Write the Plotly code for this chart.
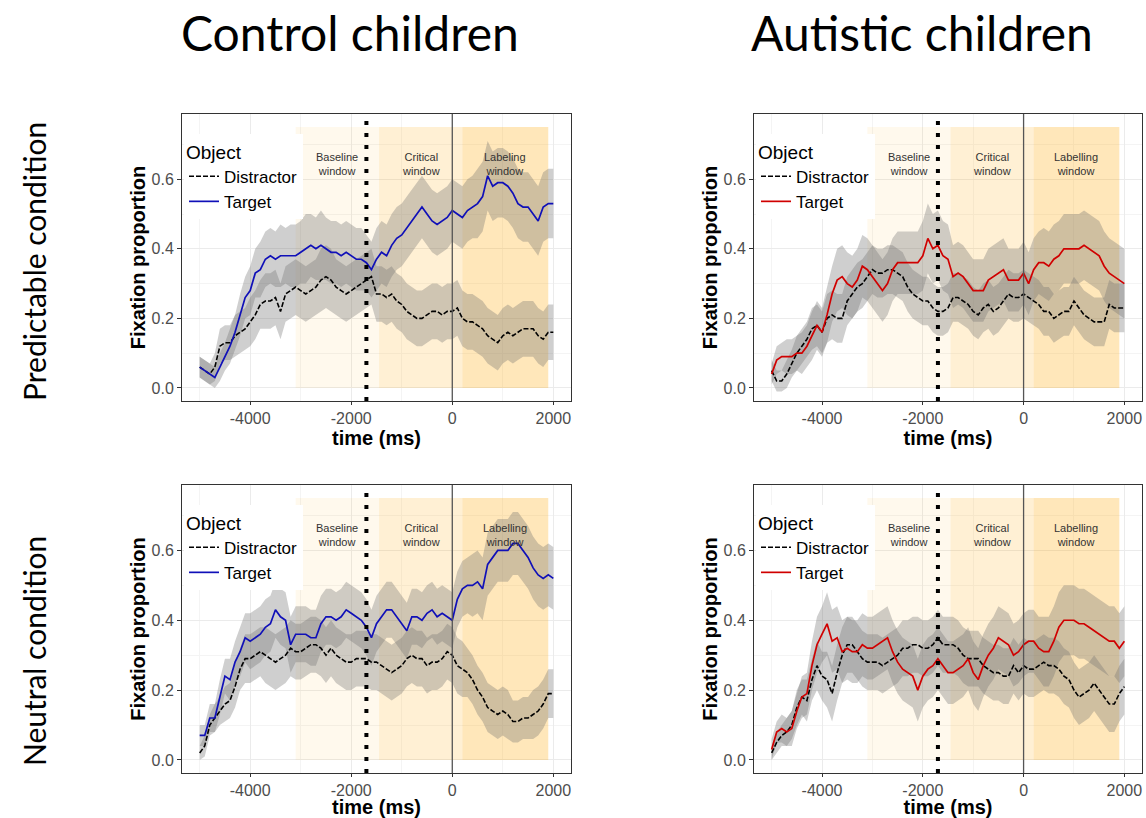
import plotly.graph_objects as go

# ---------------- data ----------------
time_ms = list(range(-5000, 2001, 100))

# Control children, predictable condition
ctrl_pred_target = [0.06, 0.05, 0.04, 0.03, 0.06, 0.09, 0.12, 0.16, 0.21, 0.26,
                    0.28, 0.33, 0.34, 0.37, 0.38, 0.37, 0.38, 0.38, 0.38, 0.38,
                    0.39, 0.40, 0.41, 0.40, 0.41, 0.40, 0.39, 0.39, 0.38, 0.39,
                    0.38, 0.37, 0.37, 0.36, 0.34, 0.37, 0.39, 0.38, 0.41, 0.43,
                    0.44, 0.46, 0.48, 0.50, 0.52, 0.50, 0.48, 0.47, 0.48, 0.49,
                    0.51, 0.50, 0.49, 0.51, 0.52, 0.53, 0.55, 0.61, 0.58, 0.59,
                    0.59, 0.58, 0.56, 0.53, 0.52, 0.52, 0.50, 0.48, 0.52, 0.53,
                    0.53]
ctrl_pred_distractor = [0.06, 0.05, 0.04, 0.06, 0.12, 0.13, 0.13, 0.15, 0.16, 0.17,
                        0.19, 0.21, 0.24, 0.25, 0.25, 0.26, 0.22, 0.27, 0.28, 0.29,
                        0.28, 0.27, 0.28, 0.29, 0.31, 0.32, 0.31, 0.29, 0.28, 0.27,
                        0.28, 0.29, 0.30, 0.31, 0.32, 0.27, 0.27, 0.26, 0.27, 0.25,
                        0.24, 0.22, 0.21, 0.20, 0.20, 0.21, 0.22, 0.22, 0.21, 0.22,
                        0.22, 0.23, 0.20, 0.19, 0.19, 0.18, 0.17, 0.15, 0.14, 0.13,
                        0.15, 0.16, 0.15, 0.16, 0.17, 0.17, 0.17, 0.15, 0.14, 0.16,
                        0.16]
ctrl_pred_target_ci = [0.03, 0.03, 0.03, 0.03, 0.04, 0.04, 0.05, 0.05, 0.06, 0.06,
                       0.07, 0.07, 0.08, 0.08, 0.08, 0.08, 0.09, 0.08, 0.09, 0.09,
                       0.09, 0.10, 0.09, 0.09, 0.10, 0.09, 0.09, 0.09, 0.09, 0.09,
                       0.09, 0.09, 0.09, 0.08, 0.08, 0.09, 0.09, 0.09, 0.09, 0.09,
                       0.09, 0.09, 0.09, 0.09, 0.09, 0.09, 0.09, 0.09, 0.09, 0.09,
                       0.09, 0.09, 0.09, 0.09, 0.09, 0.10, 0.10, 0.10, 0.10, 0.10,
                       0.10, 0.10, 0.10, 0.10, 0.10, 0.10, 0.10, 0.10, 0.10, 0.10,
                       0.10]
ctrl_pred_distractor_ci = [0.03, 0.03, 0.03, 0.04, 0.05, 0.05, 0.05, 0.06, 0.06, 0.06,
                           0.07, 0.07, 0.07, 0.08, 0.08, 0.08, 0.08, 0.08, 0.08, 0.08,
                           0.08, 0.08, 0.08, 0.08, 0.09, 0.09, 0.09, 0.08, 0.08, 0.08,
                           0.08, 0.08, 0.08, 0.08, 0.08, 0.08, 0.08, 0.08, 0.08, 0.08,
                           0.08, 0.08, 0.08, 0.08, 0.08, 0.08, 0.08, 0.08, 0.08, 0.08,
                           0.08, 0.08, 0.08, 0.08, 0.08, 0.08, 0.08, 0.08, 0.08, 0.08,
                           0.08, 0.08, 0.08, 0.08, 0.08, 0.08, 0.08, 0.08, 0.08, 0.08,
                           0.08]

# Autistic children, predictable condition
aut_pred_target = [0.04, 0.08, 0.09, 0.09, 0.09, 0.10, 0.10, 0.12, 0.15, 0.18,
                   0.16, 0.21, 0.27, 0.31, 0.32, 0.30, 0.29, 0.31, 0.35, 0.34,
                   0.32, 0.30, 0.28, 0.30, 0.34, 0.36, 0.36, 0.36, 0.36, 0.36,
                   0.38, 0.43, 0.40, 0.41, 0.38, 0.37, 0.32, 0.33, 0.32, 0.30,
                   0.28, 0.28, 0.28, 0.31, 0.32, 0.33, 0.34, 0.31, 0.31, 0.31,
                   0.33, 0.30, 0.34, 0.36, 0.36, 0.35, 0.37, 0.38, 0.40, 0.40,
                   0.40, 0.40, 0.41, 0.40, 0.39, 0.38, 0.35, 0.33, 0.32, 0.31,
                   0.30]
aut_pred_distractor = [0.05, 0.02, 0.02, 0.04, 0.07, 0.10, 0.12, 0.14, 0.17, 0.18,
                       0.16, 0.20, 0.21, 0.20, 0.20, 0.25, 0.27, 0.29, 0.30, 0.32,
                       0.34, 0.33, 0.33, 0.34, 0.34, 0.33, 0.32, 0.29, 0.27, 0.26,
                       0.25, 0.25, 0.23, 0.22, 0.22, 0.23, 0.26, 0.26, 0.25, 0.24,
                       0.22, 0.21, 0.23, 0.24, 0.22, 0.23, 0.25, 0.27, 0.26, 0.26,
                       0.27, 0.26, 0.25, 0.24, 0.22, 0.22, 0.20, 0.21, 0.22, 0.22,
                       0.25, 0.23, 0.21, 0.20, 0.19, 0.19, 0.19, 0.24, 0.23, 0.23,
                       0.23]
aut_pred_target_ci = [0.03, 0.04, 0.04, 0.05, 0.05, 0.05, 0.06, 0.06, 0.07, 0.07,
                      0.07, 0.08, 0.08, 0.09, 0.09, 0.09, 0.09, 0.09, 0.09, 0.09,
                      0.09, 0.09, 0.09, 0.09, 0.09, 0.09, 0.09, 0.09, 0.09, 0.09,
                      0.10, 0.10, 0.10, 0.10, 0.10, 0.10, 0.09, 0.09, 0.09, 0.09,
                      0.09, 0.09, 0.09, 0.09, 0.09, 0.09, 0.09, 0.09, 0.09, 0.09,
                      0.09, 0.09, 0.09, 0.09, 0.10, 0.10, 0.10, 0.10, 0.10, 0.10,
                      0.10, 0.10, 0.10, 0.10, 0.10, 0.10, 0.10, 0.10, 0.10, 0.10,
                      0.10]
aut_pred_distractor_ci = [0.03, 0.03, 0.03, 0.04, 0.04, 0.05, 0.05, 0.05, 0.06, 0.06,
                          0.06, 0.07, 0.07, 0.07, 0.07, 0.07, 0.07, 0.07, 0.07, 0.07,
                          0.07, 0.07, 0.07, 0.07, 0.07, 0.07, 0.07, 0.07, 0.07, 0.07,
                          0.07, 0.07, 0.07, 0.07, 0.07, 0.07, 0.07, 0.07, 0.07, 0.07,
                          0.07, 0.07, 0.07, 0.07, 0.07, 0.07, 0.07, 0.07, 0.07, 0.07,
                          0.07, 0.07, 0.07, 0.07, 0.07, 0.07, 0.07, 0.07, 0.07, 0.07,
                          0.07, 0.07, 0.07, 0.07, 0.07, 0.07, 0.07, 0.07, 0.07, 0.07,
                          0.07]

# Control children, neutral condition
ctrl_neut_target = [0.07, 0.07, 0.12, 0.12, 0.18, 0.24, 0.23, 0.28, 0.31, 0.35,
                    0.34, 0.35, 0.36, 0.38, 0.39, 0.43, 0.41, 0.40, 0.33, 0.36,
                    0.36, 0.36, 0.35, 0.35, 0.39, 0.41, 0.41, 0.40, 0.41, 0.43,
                    0.42, 0.41, 0.40, 0.38, 0.35, 0.39, 0.41, 0.43, 0.43, 0.41,
                    0.39, 0.37, 0.41, 0.41, 0.40, 0.42, 0.43, 0.41, 0.42, 0.41,
                    0.40, 0.46, 0.49, 0.50, 0.50, 0.51, 0.49, 0.56, 0.58, 0.60,
                    0.60, 0.60, 0.62, 0.62, 0.60, 0.58, 0.55, 0.53, 0.52, 0.53,
                    0.52]
ctrl_neut_distractor = [0.02, 0.04, 0.10, 0.12, 0.14, 0.16, 0.17, 0.21, 0.26, 0.29,
                        0.29, 0.30, 0.31, 0.30, 0.29, 0.28, 0.29, 0.30, 0.32, 0.31,
                        0.31, 0.32, 0.33, 0.33, 0.32, 0.30, 0.32, 0.30, 0.29, 0.28,
                        0.28, 0.29, 0.29, 0.29, 0.28, 0.28, 0.27, 0.26, 0.25, 0.26,
                        0.27, 0.29, 0.30, 0.29, 0.29, 0.27, 0.28, 0.28, 0.29, 0.31,
                        0.30, 0.27, 0.26, 0.25, 0.23, 0.20, 0.18, 0.15, 0.14, 0.13,
                        0.14, 0.13, 0.11, 0.11, 0.12, 0.12, 0.13, 0.14, 0.16, 0.19,
                        0.19]
ctrl_neut_target_ci = [0.03, 0.03, 0.04, 0.04, 0.05, 0.05, 0.06, 0.06, 0.07, 0.07,
                       0.08, 0.08, 0.08, 0.08, 0.08, 0.08, 0.08, 0.08, 0.08, 0.08,
                       0.08, 0.08, 0.08, 0.08, 0.08, 0.08, 0.08, 0.08, 0.08, 0.08,
                       0.08, 0.08, 0.08, 0.08, 0.08, 0.08, 0.08, 0.08, 0.08, 0.08,
                       0.08, 0.08, 0.08, 0.08, 0.08, 0.08, 0.08, 0.08, 0.08, 0.08,
                       0.08, 0.08, 0.08, 0.08, 0.09, 0.09, 0.09, 0.09, 0.09, 0.09,
                       0.09, 0.09, 0.09, 0.09, 0.09, 0.09, 0.09, 0.09, 0.09, 0.09,
                       0.09]
ctrl_neut_distractor_ci = [0.02, 0.03, 0.03, 0.04, 0.04, 0.05, 0.05, 0.06, 0.06, 0.07,
                           0.07, 0.07, 0.07, 0.08, 0.08, 0.08, 0.08, 0.08, 0.08, 0.08,
                           0.08, 0.08, 0.08, 0.08, 0.08, 0.08, 0.08, 0.08, 0.08, 0.08,
                           0.08, 0.08, 0.08, 0.08, 0.08, 0.08, 0.08, 0.08, 0.08, 0.08,
                           0.08, 0.08, 0.08, 0.08, 0.08, 0.08, 0.08, 0.08, 0.08, 0.08,
                           0.08, 0.08, 0.08, 0.07, 0.07, 0.07, 0.07, 0.07, 0.07, 0.07,
                           0.07, 0.07, 0.06, 0.06, 0.06, 0.06, 0.07, 0.07, 0.07, 0.07,
                           0.07]

# Autistic children, neutral condition
aut_neut_target = [0.03, 0.08, 0.09, 0.08, 0.09, 0.14, 0.18, 0.19, 0.27, 0.33,
                   0.36, 0.39, 0.34, 0.35, 0.31, 0.32, 0.31, 0.31, 0.33, 0.32,
                   0.32, 0.33, 0.34, 0.35, 0.31, 0.28, 0.26, 0.25, 0.24, 0.20,
                   0.24, 0.26, 0.27, 0.29, 0.27, 0.25, 0.25, 0.26, 0.27, 0.29,
                   0.25, 0.23, 0.27, 0.30, 0.32, 0.35, 0.34, 0.33, 0.30, 0.31,
                   0.33, 0.34, 0.34, 0.32, 0.31, 0.31, 0.34, 0.38, 0.40, 0.40,
                   0.40, 0.39, 0.39, 0.38, 0.37, 0.36, 0.35, 0.34, 0.34, 0.32,
                   0.34]
aut_neut_distractor = [0.02, 0.05, 0.07, 0.08, 0.10, 0.15, 0.18, 0.17, 0.23, 0.27,
                       0.24, 0.23, 0.19, 0.25, 0.30, 0.33, 0.33, 0.31, 0.29, 0.28,
                       0.28, 0.28, 0.27, 0.28, 0.29, 0.30, 0.32, 0.32, 0.33, 0.33,
                       0.32, 0.32, 0.33, 0.35, 0.33, 0.33, 0.33, 0.32, 0.30, 0.29,
                       0.29, 0.29, 0.27, 0.26, 0.25, 0.25, 0.24, 0.24, 0.27, 0.25,
                       0.27, 0.26, 0.26, 0.27, 0.28, 0.27, 0.27, 0.26, 0.24, 0.23,
                       0.20, 0.18, 0.19, 0.20, 0.22, 0.20, 0.18, 0.16, 0.16, 0.19,
                       0.21]
aut_neut_target_ci = [0.03, 0.03, 0.04, 0.04, 0.05, 0.05, 0.06, 0.06, 0.07, 0.08,
                      0.08, 0.09, 0.09, 0.09, 0.09, 0.09, 0.09, 0.09, 0.09, 0.09,
                      0.09, 0.09, 0.09, 0.09, 0.09, 0.09, 0.09, 0.09, 0.09, 0.09,
                      0.09, 0.09, 0.09, 0.09, 0.09, 0.09, 0.09, 0.09, 0.09, 0.09,
                      0.09, 0.09, 0.09, 0.09, 0.09, 0.09, 0.09, 0.09, 0.09, 0.09,
                      0.09, 0.09, 0.09, 0.09, 0.10, 0.10, 0.10, 0.10, 0.10, 0.10,
                      0.10, 0.10, 0.10, 0.10, 0.10, 0.10, 0.10, 0.10, 0.10, 0.10,
                      0.10]
aut_neut_distractor_ci = [0.02, 0.03, 0.03, 0.04, 0.04, 0.05, 0.05, 0.06, 0.06, 0.07,
                          0.07, 0.08, 0.08, 0.08, 0.08, 0.08, 0.08, 0.08, 0.08, 0.08,
                          0.08, 0.08, 0.08, 0.08, 0.08, 0.08, 0.08, 0.08, 0.08, 0.08,
                          0.08, 0.08, 0.08, 0.08, 0.08, 0.08, 0.08, 0.08, 0.08, 0.08,
                          0.08, 0.08, 0.08, 0.08, 0.08, 0.08, 0.08, 0.08, 0.08, 0.08,
                          0.08, 0.08, 0.08, 0.08, 0.08, 0.08, 0.08, 0.08, 0.08, 0.08,
                          0.08, 0.08, 0.08, 0.08, 0.08, 0.08, 0.08, 0.08, 0.08, 0.08,
                          0.08]

# analysis windows (ms)
window_starts = [-3100, -1450, 200]
window_ends = [-1450, 200, 1900]
window_top = 0.75
labels_top_left = ["Baseline<br>window", "Critical<br>window", "Labeling<br>window"]
labels_other = ["Baseline<br>window", "Critical<br>window", "Labelling<br>window"]
prediction_onset = -1700
label_onset = 0

x_tickvals = [-4000, -2000, 0, 2000]
x_ticktext = ["-4000", "-2000", "0", "2000"]
x_minor = [-5000, -3000, -1000, 1000]
y_tickvals = [0.0, 0.2, 0.4, 0.6]
y_ticktext = ["0.0", "0.2", "0.4", "0.6"]
y_minor = [0.1, 0.3, 0.5, 0.7]

column_titles = ["Control children", "Autistic children"]
row_titles = ["Predictable condition", "Neutral condition"]

# ---------------- figure ----------------
W, H = 1146, 818
fig = go.Figure()

AX_FONT = "Liberation Sans, Arial, sans-serif"
TITLE_FONT = "Lato, Carlito, Calibri, sans-serif"

panels = [
    # (suffix, xdomain, ydomain, target, distractor, t_ci, d_ci, color, legend, labels, legend pos)
    ("", [182 / W, 571 / W], [(H - 401) / H, (H - 114) / H],
     ctrl_pred_target, ctrl_pred_distractor, ctrl_pred_target_ci, ctrl_pred_distractor_ci,
     "#1010B8", "legend", labels_top_left, (184 / W, (H - 134) / H)),
    ("2", [754 / W, 1142 / W], [(H - 401) / H, (H - 114) / H],
     aut_pred_target, aut_pred_distractor, aut_pred_target_ci, aut_pred_distractor_ci,
     "#D00000", "legend2", labels_other, (756 / W, (H - 134) / H)),
    ("3", [182 / W, 571 / W], [(H - 773) / H, (H - 485) / H],
     ctrl_neut_target, ctrl_neut_distractor, ctrl_neut_target_ci, ctrl_neut_distractor_ci,
     "#1010B8", "legend3", labels_other, (184 / W, (H - 505) / H)),
    ("4", [754 / W, 1142 / W], [(H - 773) / H, (H - 485) / H],
     aut_neut_target, aut_neut_distractor, aut_neut_target_ci, aut_neut_distractor_ci,
     "#D00000", "legend4", labels_other, (756 / W, (H - 505) / H)),
]

window_fills = ["rgba(255,165,0,0.07)", "rgba(255,165,0,0.17)", "rgba(255,165,0,0.27)"]
ribbon_fill = "rgba(110,110,110,0.33)"

layout_updates = {}
for suffix, xd, yd, tgt, dis, tci, dci, col, leg, wlabels, legpos in panels:
    xa, ya = "x" + suffix, "y" + suffix
    xkey, ykey = "xaxis" + suffix, "yaxis" + suffix

    # ribbons
    for mean, ci in ((dis, dci), (tgt, tci)):
        upper = [m + c for m, c in zip(mean, ci)]
        lower = [m - c for m, c in zip(mean, ci)]
        fig.add_trace(go.Scatter(
            x=time_ms + time_ms[::-1], y=upper + lower[::-1],
            fill="toself", fillcolor=ribbon_fill, line=dict(width=0),
            mode="lines", hoverinfo="skip", showlegend=False,
            xaxis=xa, yaxis=ya))
    # lines
    fig.add_trace(go.Scatter(
        x=time_ms, y=dis, mode="lines", name="Distractor",
        line=dict(color="black", width=1.6, dash="5px,2px"),
        xaxis=xa, yaxis=ya, legend=leg))
    fig.add_trace(go.Scatter(
        x=time_ms, y=tgt, mode="lines", name="Target",
        line=dict(color=col, width=1.7),
        xaxis=xa, yaxis=ya, legend=leg))

    # analysis windows
    for s, e, fc, lab in zip(window_starts, window_ends, window_fills, wlabels):
        fig.add_shape(type="rect", xref=xa, yref=ya, x0=s, x1=e, y0=0, y1=window_top,
                      fillcolor=fc, line=dict(width=0), layer="between")
        fig.add_annotation(xref=xa, yref=ya, x=(s + e) / 2, y=0.645, text=lab,
                           showarrow=False,
                           font=dict(family=AX_FONT, size=11, color="#333333"))
    # vertical markers
    fig.add_shape(type="line", xref=xa, yref=ya + " domain", x0=prediction_onset,
                  x1=prediction_onset, y0=0, y1=1,
                  line=dict(color="black", width=4, dash="4px,8px"), layer="above")
    fig.add_shape(type="line", xref=xa, yref=ya + " domain", x0=label_onset,
                  x1=label_onset, y0=0, y1=1,
                  line=dict(color="#555555", width=1.3), layer="above")

    layout_updates[xkey] = dict(
        domain=xd, anchor=ya, range=[-5350, 2350],
        tickvals=x_tickvals, ticktext=x_ticktext,
        showgrid=True, gridcolor="#EBEBEB", gridwidth=1.1,
        minor=dict(tickvals=x_minor, showgrid=True, gridcolor="#F4F4F4", gridwidth=0.6),
        zeroline=False, showline=True, mirror=True, linecolor="#333333", linewidth=1,
        ticks="outside", ticklen=3, tickcolor="#333333",
        tickfont=dict(family=AX_FONT, size=16, color="#4D4D4D"),
        title=dict(text="<b>time (ms)</b>", standoff=0,
                   font=dict(family=AX_FONT, size=20, color="black")),
        automargin=False)
    layout_updates[ykey] = dict(
        domain=yd, anchor=xa, range=[-0.0375, 0.7875],
        tickvals=y_tickvals, ticktext=y_ticktext,
        showgrid=True, gridcolor="#EBEBEB", gridwidth=1.1,
        minor=dict(tickvals=y_minor, showgrid=True, gridcolor="#F4F4F4", gridwidth=0.6),
        zeroline=False, showline=True, mirror=True, linecolor="#333333", linewidth=1,
        ticks="outside", ticklen=4, tickcolor="#333333",
        tickfont=dict(family=AX_FONT, size=16, color="#4D4D4D"),
        title=dict(text="<b>Fixation proportion</b>", standoff=0,
                   font=dict(family=AX_FONT, size=20, color="black")),
        automargin=False)
    layout_updates[leg] = dict(
        x=legpos[0], y=legpos[1], xanchor="left", yanchor="top",
        bgcolor="white", borderwidth=0,
        title=dict(text="Object", font=dict(family=AX_FONT, size=19, color="black")),
        font=dict(family=AX_FONT, size=17, color="black"),
        tracegroupgap=0, itemwidth=30)

fig.update_layout(**layout_updates)

# column and row titles
for txt, xc in zip(column_titles, [350, 922]):
    fig.add_annotation(xref="paper", yref="paper", x=xc / W, y=(H - 33) / H, text=txt,
                       showarrow=False, xanchor="center", yanchor="middle",
                       font=dict(family=TITLE_FONT, size=48, color="black"))
for txt, yc in zip(row_titles, [262, 651]):
    fig.add_annotation(xref="paper", yref="paper", x=34 / W, y=(H - yc) / H, text=txt,
                       showarrow=False, textangle=-90, xanchor="center", yanchor="middle",
                       font=dict(family=TITLE_FONT, size=30, color="black"))

fig.update_layout(width=W, height=H, margin=dict(l=0, r=0, t=0, b=0),
                  paper_bgcolor="white", plot_bgcolor="white", showlegend=True)

fig.write_html("out.html", config={"displayModeBar": False},
               post_script="document.body.style.margin='0';document.body.style.overflow='hidden';")
